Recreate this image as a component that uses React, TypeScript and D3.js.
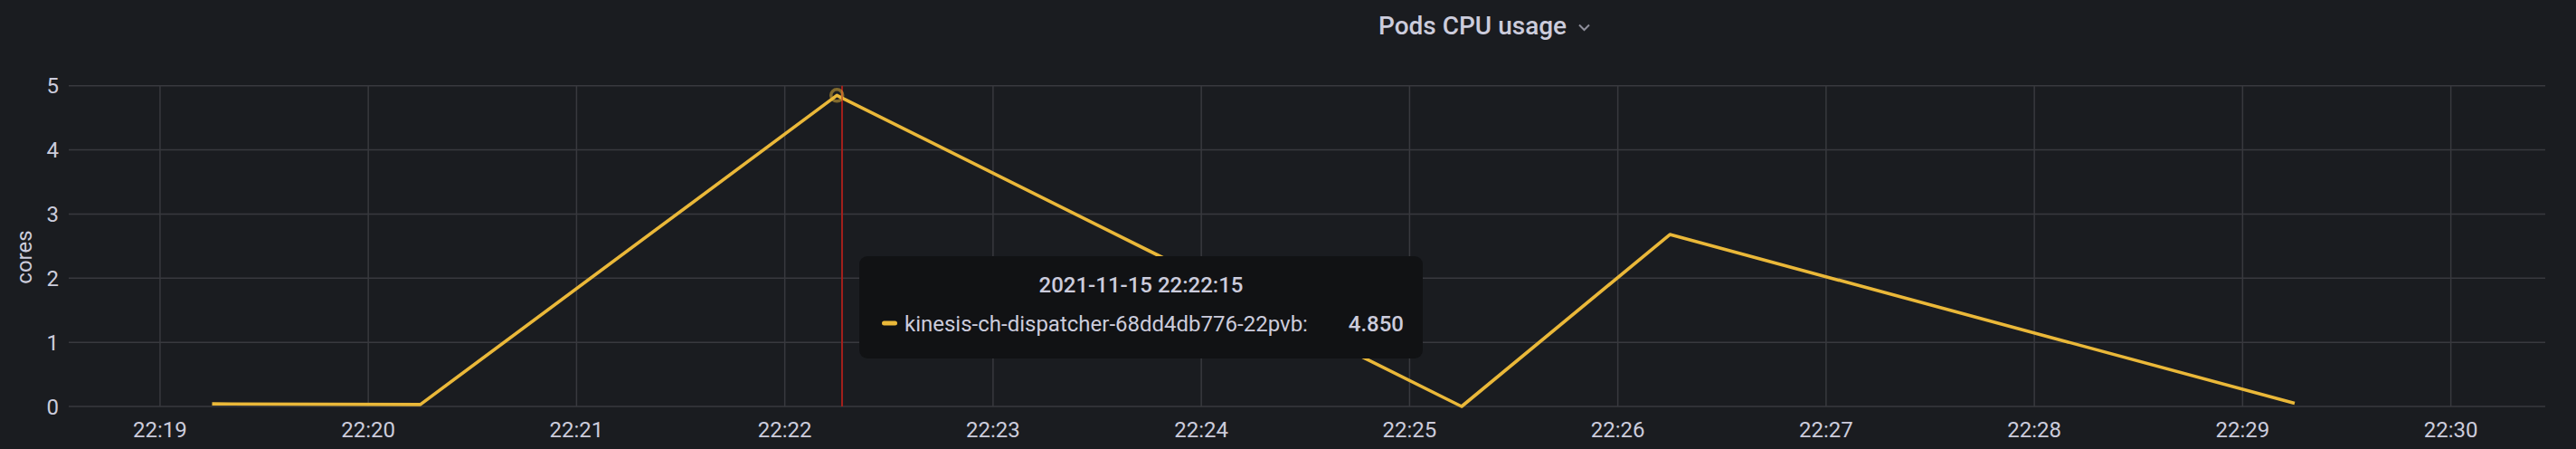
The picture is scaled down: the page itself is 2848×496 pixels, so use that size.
import React from "react";
import * as d3 from "d3";

// ---- data ----
const seriesName = "kinesis-ch-dispatcher-68dd4db776-22pvb";
const pointTimes = [
  "2021-11-15 22:19:15",
  "2021-11-15 22:20:15",
  "2021-11-15 22:22:15",
  "2021-11-15 22:25:15",
  "2021-11-15 22:26:15",
  "2021-11-15 22:29:15",
];
const pointValues = [0.04, 0.03, 4.85, 0, 2.68, 0.05];
const xTickTimes = [
  "2021-11-15 22:19:00", "2021-11-15 22:20:00", "2021-11-15 22:21:00", "2021-11-15 22:22:00",
  "2021-11-15 22:23:00", "2021-11-15 22:24:00", "2021-11-15 22:25:00", "2021-11-15 22:26:00",
  "2021-11-15 22:27:00", "2021-11-15 22:28:00", "2021-11-15 22:29:00", "2021-11-15 22:30:00",
];
const yTicks = [0, 1, 2, 3, 4, 5];
const timeDomain = ["2021-11-15 22:18:33.7", "2021-11-15 22:30:27.2"];
const valueDomain = [0, 5];
const hoverIndex = 2;
const cursorTime = "2021-11-15 22:22:16.5";
const title = "Pods CPU usage";
const yLabel = "cores";

const W = 2848;
const H = 496;
const plot = { left: 76, right: 2814, top: 94.7, bottom: 449 };

const parse = (s: string) => {
  const f = s.includes(".") ? d3.utcParse("%Y-%m-%d %H:%M:%S.%L") : d3.utcParse("%Y-%m-%d %H:%M:%S");
  const str = s.includes(".") ? s.padEnd(23, "0") : s;
  return f(str) as Date;
};

const TEXT = "#ccccdc";
const BG = "#1a1c20";
const GRID = "#38393e";
const LINE = "#eab839";
const FONT = "Roboto, 'Noto Sans', sans-serif";

export default function App() {
  const x = d3.scaleUtc().domain(timeDomain.map(parse)).range([plot.left, plot.right]);
  const y = d3.scaleLinear().domain(valueDomain).range([plot.bottom, plot.top]);
  const pts = pointTimes.map((t, i) => ({ t: parse(t), v: pointValues[i] }));
  const line = d3.line<{ t: Date; v: number }>().x((d) => x(d.t)).y((d) => y(d.v));
  const fmtTick = d3.utcFormat("%H:%M");
  const fmtTip = d3.utcFormat("%Y-%m-%d %H:%M:%S");
  const hp = pts[hoverIndex];
  const cx = x(parse(cursorTime));

  const tip = { x: 950, y: 283, w: 623, h: 113 };

  return (
    <svg
      width={W}
      height={H}
      style={{ position: "absolute", left: 0, top: 0, display: "block", background: BG }}
      fontFamily={FONT}
    >
      <rect x={0} y={0} width={W} height={H} fill={BG} />
      {/* title */}
      <text x={1524} y={38} fill={TEXT} fontSize={28} fontWeight={500}>
        {title}
      </text>
      <path d="M1746,27.5 L1751.5,33 L1757,27.5" fill="none" stroke="#8e8e9a" strokeWidth={2} />

      {/* grid */}
      {yTicks.map((v) => (
        <line key={"gy" + v} x1={plot.left} x2={plot.right} y1={y(v)} y2={y(v)} stroke={GRID} strokeWidth={1.5} />
      ))}
      {xTickTimes.map((t) => (
        <line key={"gx" + t} x1={x(parse(t))} x2={x(parse(t))} y1={plot.top} y2={plot.bottom} stroke={GRID} strokeWidth={1.5} />
      ))}

      {/* y ticks */}
      {yTicks.map((v) => (
        <text key={"ty" + v} x={65} y={y(v)} dy="0.36em" textAnchor="end" fill={TEXT} fontSize={24}>
          {v}
        </text>
      ))}
      {/* x ticks */}
      {xTickTimes.map((t) => (
        <text key={"tx" + t} x={x(parse(t))} y={483} textAnchor="middle" fill={TEXT} fontSize={24}>
          {fmtTick(parse(t))}
        </text>
      ))}
      <text transform={`translate(35,284) rotate(-90)`} textAnchor="middle" fill={TEXT} fontSize={24}>
        {yLabel}
      </text>

      {/* series */}
      <path d={line(pts) || ""} fill="none" stroke={LINE} strokeWidth={3.6} strokeLinejoin="round" />

      {/* crosshair */}
      <line x1={cx} x2={cx} y1={plot.top} y2={plot.bottom} stroke="#a3201c" strokeWidth={2} />
      <circle cx={x(hp.t)} cy={y(hp.v)} r={6.5} fill="none" stroke={LINE} strokeOpacity={0.5} strokeWidth={3.5} />

      {/* tooltip */}
      <rect x={tip.x} y={tip.y} width={tip.w} height={tip.h} rx={9} fill="#111214" />
      <text x={tip.x + tip.w / 2} y={323} textAnchor="middle" fill={TEXT} fontSize={24} fontWeight={500}>
        {fmtTip(hp.t)}
      </text>
      <rect x={975} y={354.5} width={17} height={5} rx={2.5} fill={LINE} />
      <text x={1000} y={366} fill={TEXT} fontSize={24}>
        {seriesName + ":"}
      </text>
      <text x={1552} y={366} textAnchor="end" fill={TEXT} fontSize={24} fontWeight={500}>
        {d3.format(".3f")(hp.v)}
      </text>
    </svg>
  );
}
